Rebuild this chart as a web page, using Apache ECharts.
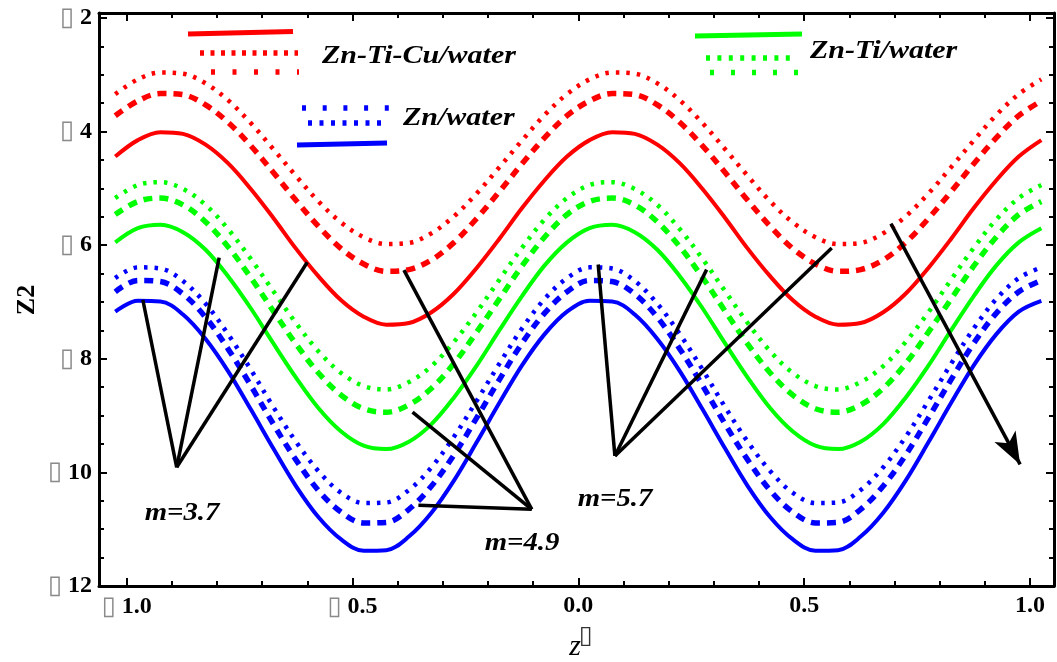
<!DOCTYPE html>
<html>
<head>
<meta charset="utf-8">
<title>Z2 profiles</title>
<script src="https://cdn.jsdelivr.net/npm/echarts@6/dist/echarts.min.js"></script>
<style>
  html, body { margin: 0; padding: 0; background: #fff; }
  #chart { width: 1057px; height: 662px; }
</style>
</head>
<body>
<div id="chart"></div>
<script>
// Axial coordinate samples
const z = [-1.025, -0.975, -0.925, -0.875, -0.825, -0.775, -0.725, -0.675, -0.625, -0.575,
  -0.525, -0.475, -0.425, -0.375, -0.325, -0.275, -0.225, -0.175, -0.125, -0.075,
  -0.025, 0.025, 0.075, 0.125, 0.175, 0.225, 0.275, 0.325, 0.375, 0.425,
  0.475, 0.525, 0.575, 0.625, 0.675, 0.725, 0.775, 0.825, 0.875, 0.925,
  0.975, 1.025];

// Zn-Ti-Cu/water
const cuM37 = [-4.44,-4.15,-4.01,-4.04,-4.23,-4.56,-5.01,-5.52,-6.06,-6.55,-6.97,-7.26,-7.40,-7.37,-7.18,-6.85,-6.40,-5.89,-5.35,-4.86,
  -4.44,-4.15,-4.01,-4.04,-4.23,-4.56,-5.01,-5.52,-6.06,-6.55,-6.97,-7.26,-7.40,-7.37,-7.18,-6.85,-6.40,-5.89,-5.35,-4.86,-4.44,-4.15];
const cuM49 = [-3.72,-3.46,-3.33,-3.35,-3.53,-3.84,-4.25,-4.72,-5.21,-5.67,-6.06,-6.33,-6.46,-6.43,-6.26,-5.95,-5.53,-5.06,-4.57,-4.11,
  -3.72,-3.46,-3.33,-3.35,-3.53,-3.84,-4.25,-4.72,-5.21,-5.67,-6.06,-6.33,-6.46,-6.43,-6.26,-5.95,-5.53,-5.06,-4.57,-4.11,-3.72,-3.46];
const cuM57 = [-3.34,-3.08,-2.96,-2.98,-3.15,-3.45,-3.85,-4.31,-4.78,-5.23,-5.60,-5.86,-5.98,-5.96,-5.79,-5.49,-5.09,-4.63,-4.16,-3.71,
  -3.34,-3.08,-2.96,-2.98,-3.15,-3.45,-3.85,-4.31,-4.78,-5.23,-5.60,-5.86,-5.98,-5.96,-5.79,-5.49,-5.09,-4.63,-4.16,-3.71,-3.34,-3.08];

// Zn-Ti/water
const tiM37 = [-5.95,-5.70,-5.64,-5.77,-6.08,-6.55,-7.11,-7.73,-8.33,-8.87,-9.28,-9.53,-9.59,-9.46,-9.15,-8.68,-8.12,-7.50,-6.90,-6.36,
  -5.95,-5.70,-5.64,-5.77,-6.08,-6.55,-7.11,-7.73,-8.33,-8.87,-9.28,-9.53,-9.59,-9.46,-9.15,-8.68,-8.12,-7.50,-6.90,-6.36,-5.95,-5.70];
const tiM49 = [-5.46,-5.23,-5.17,-5.29,-5.59,-6.03,-6.57,-7.16,-7.74,-8.25,-8.64,-8.88,-8.94,-8.81,-8.52,-8.08,-7.53,-6.95,-6.37,-5.86,
  -5.46,-5.23,-5.17,-5.29,-5.59,-6.03,-6.57,-7.16,-7.74,-8.25,-8.64,-8.88,-8.94,-8.81,-8.52,-8.08,-7.53,-6.95,-6.37,-5.86,-5.46,-5.23];
const tiM57 = [-5.17,-4.94,-4.89,-5.01,-5.29,-5.72,-6.24,-6.81,-7.37,-7.87,-8.25,-8.48,-8.54,-8.41,-8.13,-7.70,-7.18,-6.61,-6.05,-5.55,
  -5.17,-4.94,-4.89,-5.01,-5.29,-5.72,-6.24,-6.81,-7.37,-7.87,-8.25,-8.48,-8.54,-8.41,-8.13,-7.70,-7.18,-6.61,-6.05,-5.55,-5.17,-4.94];

// Zn/water
const znM37 = [-7.17,-6.98,-6.99,-7.22,-7.65,-8.22,-8.89,-9.58,-10.24,-10.79,-11.18,-11.38,-11.37,-11.13,-10.71,-10.14,-9.47,-8.78,-8.12,-7.57,
  -7.17,-6.98,-6.99,-7.22,-7.65,-8.22,-8.89,-9.58,-10.24,-10.79,-11.18,-11.38,-11.37,-11.13,-10.71,-10.14,-9.47,-8.78,-8.12,-7.57,-7.17,-6.98];
const znM49 = [-6.82,-6.62,-6.64,-6.86,-7.27,-7.83,-8.47,-9.15,-9.78,-10.32,-10.70,-10.89,-10.88,-10.65,-10.24,-9.69,-9.04,-8.37,-7.73,-7.20,
  -6.82,-6.62,-6.64,-6.86,-7.27,-7.83,-8.47,-9.15,-9.78,-10.32,-10.70,-10.89,-10.88,-10.65,-10.24,-9.69,-9.04,-8.37,-7.73,-7.20,-6.82,-6.62];
const znM57 = [-6.58,-6.39,-6.41,-6.63,-7.03,-7.57,-8.19,-8.85,-9.46,-9.98,-10.36,-10.54,-10.53,-10.31,-9.91,-9.37,-8.74,-8.09,-7.47,-6.95,
  -6.58,-6.39,-6.41,-6.63,-7.03,-7.57,-8.19,-8.85,-9.46,-9.98,-10.36,-10.54,-10.53,-10.31,-9.91,-9.37,-8.74,-8.09,-7.47,-6.95,-6.58,-6.39];

// Tick positions
const xMajorTicks = [-1, -0.5, 0, 0.5, 1];
const xMinorTicks = [-0.9, -0.8, -0.7, -0.6, -0.4, -0.3, -0.2, -0.1, 0.1, 0.2, 0.3, 0.4, 0.6, 0.7, 0.8, 0.9];
const yMajorTicks = [-12, -10, -8, -6, -4, -2];
const yMinorTicks = [-11.5, -11, -10.5, -9.5, -9, -8.5, -7.5, -7, -6.5, -5.5, -5, -4.5, -3.5, -3, -2.5];

// Pointer lines from each m label to its curves, in axis units
const pointersM37 = [[[-0.889, -9.91], [-0.964, -6.96]], [[-0.889, -9.91], [-0.795, -6.22]], [[-0.889, -9.91], [-0.600, -6.30]]];
const pointersM49 = [[[-0.103, -10.65], [-0.386, -6.44]], [[-0.103, -10.65], [-0.367, -8.94]], [[-0.103, -10.65], [-0.354, -10.58]]];
const pointersM57 = [[[0.081, -9.71], [0.044, -6.34]], [[0.081, -9.71], [0.284, -6.43]], [[0.081, -9.71], [0.561, -6.05]]];
const trendArrow = [[0.692, -5.62], [0.978, -9.86]];

const SERIF = '"Liberation Serif", "Times New Roman", serif';
const BOXFONT = '"DejaVu Sans", sans-serif';
const X_MIN = -1.061, X_MAX = 1.053, Y_MIN = -12, Y_MAX = -1.912;

const DASHED = [9, 7];
const DOTTED = [3.5, 7];

function pairs(ys) { return z.map((x, i) => [x, ys[i]]); }

function curve(name, ys, color, dash, width) {
  return {
    name, type: 'line', data: pairs(ys), xAxisIndex: 0, yAxisIndex: 0,
    showSymbol: false, symbol: 'none', smooth: 0.35, silent: true,
    lineStyle: { color, width, type: dash || 'solid', cap: 'butt' },
    emphasis: { disabled: true }
  };
}

const boxRich = {
  m: { fontFamily: BOXFONT, fontSize: 26, color: '#8a8a8a', fontWeight: 'normal', padding: [0, 6, 0, 0] },
  n: { fontFamily: SERIF, fontSize: 24, fontWeight: 'bold', color: '#000' }
};

function signedLabel(v, digits) {
  const s = Math.abs(v).toFixed(digits);
  return v < 0 ? '{m|\u25AF}{n|' + s + '}' : '{n|' + s + '}';
}

const frameLine = { onZero: false, lineStyle: { color: '#000', width: 3 } };
const noLine = { show: false, onZero: false };

function xFrame(position, ticks, len, labels) {
  return {
    type: 'value', position, min: X_MIN, max: X_MAX,
    axisLine: len === 8 ? frameLine : noLine,
    axisTick: { inside: true, length: len, customValues: ticks, lineStyle: { color: '#000', width: 2 } },
    axisLabel: labels ? { customValues: ticks, margin: 8, fontSize: 24, fontFamily: SERIF, fontWeight: 'bold',
      formatter: v => signedLabel(v, 1), rich: boxRich } : { show: false },
    splitLine: { show: false }
  };
}

function yFrame(position, ticks, len, labels) {
  return {
    type: 'value', position, min: Y_MIN, max: Y_MAX,
    axisLine: len === 8 ? frameLine : noLine,
    axisTick: { inside: true, length: len, customValues: ticks, lineStyle: { color: '#000', width: 2 } },
    axisLabel: labels ? { customValues: ticks, margin: 7, fontSize: 24, fontFamily: SERIF, fontWeight: 'bold',
      formatter: v => signedLabel(v, 0), rich: boxRich } : { show: false },
    splitLine: { show: false }
  };
}

function pointerData(list) {
  return list.map(p => [{ coord: p[0] }, { coord: p[1] }]);
}

const series = [
  curve('Zn-Ti-Cu/water m=3.7', cuM37, '#ff0000', null, 4),
  curve('Zn-Ti-Cu/water m=4.9', cuM49, '#ff0000', DASHED, 5.5),
  curve('Zn-Ti-Cu/water m=5.7', cuM57, '#ff0000', DOTTED, 4.5),
  curve('Zn-Ti/water m=3.7', tiM37, '#00ff00', null, 4),
  curve('Zn-Ti/water m=4.9', tiM49, '#00ff00', DASHED, 5.5),
  curve('Zn-Ti/water m=5.7', tiM57, '#00ff00', DOTTED, 4.5),
  curve('Zn/water m=3.7', znM37, '#0000ff', null, 4),
  curve('Zn/water m=4.9', znM49, '#0000ff', DASHED, 5.5),
  curve('Zn/water m=5.7', znM57, '#0000ff', DOTTED, 4.5)
];

series.push({
  name: 'pointers', type: 'line', data: [], xAxisIndex: 0, yAxisIndex: 0, silent: true,
  markLine: {
    silent: true, animation: false, symbol: ['none', 'none'],
    label: { show: false },
    lineStyle: { color: '#000', width: 3.5, type: 'solid' },
    emphasis: { disabled: true },
    data: pointerData(pointersM37).concat(pointerData(pointersM49), pointerData(pointersM57), [
      [{ coord: trendArrow[0], symbol: 'none' }, { coord: trendArrow[1], symbol: 'arrow', symbolSize: [18, 32] }]
    ])
  }
});

// Legend swatches and annotation text
function seg(x1, y1, x2, y2, color, dash, w) {
  return { type: 'line', silent: true, shape: { x1, y1, x2, y2 },
    style: { stroke: color, lineWidth: w || 5, lineDash: dash || null } };
}
function label(text, x, y, size, align, sx) {
  return { type: 'text', silent: true, x, y, scaleX: sx || 1,
    style: { text, font: 'italic bold ' + size + 'px ' + SERIF, fill: '#000', align: align || 'left', verticalAlign: 'middle' } };
}

const graphic = [
  seg(188, 34, 293, 31.5, '#ff0000', null, 5),
  seg(200, 53, 298, 53, '#ff0000', [4, 6.5], 5.5),
  seg(211, 72, 299, 72, '#ff0000', [4, 17.5], 5.5),
  label('Zn-Ti-Cu/water', 322, 57, 25, 'left', 1.2),

  seg(302, 108, 390, 108, '#0000ff', [4, 16.7], 5.5),
  seg(308, 123, 384, 123, '#0000ff', [4, 7.5], 5.5),
  seg(297, 145, 387, 143, '#0000ff', null, 5),
  label('Zn/water', 403, 119, 25, 'left', 1.2),

  seg(695, 36, 802, 34, '#00ff00', null, 5),
  seg(706, 58, 793, 58, '#00ff00', [4, 7.4], 5.5),
  seg(710, 72.5, 800, 72.5, '#00ff00', [4, 17], 5.5),
  label('Zn-Ti/water', 810, 52, 25, 'left', 1.2),

  label('m=3.7', 182, 514, 25, 'center', 1.15),
  label('m=4.9', 522, 544, 25, 'center', 1.15),
  label('m=5.7', 615, 500, 25, 'center', 1.15),

  { type: 'text', silent: true, x: 27, y: 300, rotation: Math.PI / 2,
    style: { text: 'Z2', font: 'bold 26px ' + SERIF, fill: '#000', align: 'center', verticalAlign: 'middle' } },
  { type: 'text', silent: true, x: 575, y: 647,
    style: { text: 'z', font: 'italic 30px ' + SERIF, fill: '#000', align: 'center', verticalAlign: 'middle' } },
  { type: 'text', silent: true, x: 586, y: 636,
    style: { text: '\u25AF', font: '25px ' + BOXFONT, fill: '#333', align: 'center', verticalAlign: 'middle' } }
];

const chart = echarts.init(document.getElementById('chart'), null, { renderer: 'canvas' });
chart.setOption({
  animation: false,
  backgroundColor: '#fff',
  grid: { left: 99, right: 3, top: 13, bottom: 76, containLabel: false, outerBoundsMode: 'none' },
  xAxis: [
    xFrame('bottom', xMajorTicks, 8, true),
    xFrame('bottom', xMinorTicks, 5, false),
    xFrame('top', xMajorTicks, 8, false),
    xFrame('top', xMinorTicks, 5, false)
  ],
  yAxis: [
    yFrame('left', yMajorTicks, 8, true),
    yFrame('left', yMinorTicks, 5, false),
    yFrame('right', yMajorTicks, 8, false),
    yFrame('right', yMinorTicks, 5, false)
  ],
  series,
  graphic
});
</script>
</body>
</html>
